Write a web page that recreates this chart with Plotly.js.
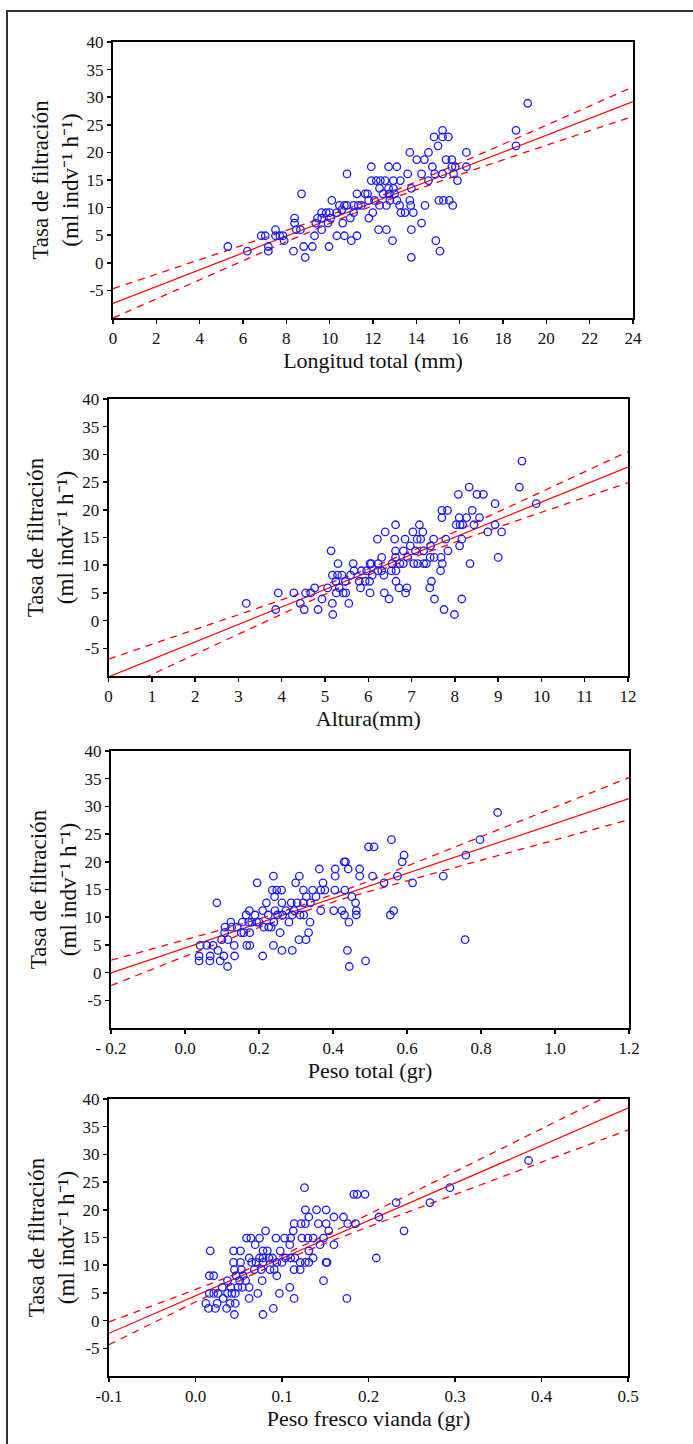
<!DOCTYPE html>
<html><head><meta charset="utf-8">
<script src="https://cdn.plot.ly/plotly-3.0.1.min.js"></script>
<style>
html,body{margin:0;padding:0;background:#fff;}
#chart{width:693px;height:1444px;position:absolute;left:0;top:0;}
#frame{position:absolute;left:6px;top:10px;width:720px;height:1460px;border-left:2px solid #333;border-top:2px solid #333;pointer-events:none;}
</style></head><body>
<div id="chart"></div><div id="frame"></div>
<script>
// ---- Panel 1: Longitud total (mm)
const p1X=[5.3,6.2,6.84,7.03,7.17,7.17,7.5,7.5,7.7,7.85,
7.9,8.33,8.38,8.38,8.46,8.65,8.7,8.8,8.87,9.2,
9.3,9.36,9.44,9.63,9.63,9.63,9.84,9.92,9.97,10.0,
10.05,10.1,10.33,10.33,10.45,10.56,10.6,10.68,10.68,10.8,
10.8,10.95,11.0,11.11,11.11,11.26,11.26,11.32,11.46,11.64,
11.75,11.8,11.81,11.92,11.92,11.99,12.07,12.15,12.26,12.3,
12.3,12.34,12.46,12.56,12.62,12.62,12.72,12.72,12.75,12.78,
12.9,12.94,12.94,13.0,13.1,13.1,13.23,13.26,13.29,13.48,
13.6,13.7,13.7,13.74,13.77,13.77,13.77,13.86,14.02,14.24,
14.24,14.37,14.4,14.56,14.56,14.74,14.82,14.85,14.9,15.0,
15.04,15.09,15.21,15.21,15.21,15.25,15.37,15.48,15.52,15.64,
15.64,15.68,15.72,15.8,15.9,16.31,16.31,18.6,18.6,19.14];
const p1Y=[2.95,2.1,4.9,4.9,2.95,2.1,6.0,4.9,4.9,4.9,
4.0,2.1,8.1,7.2,6.0,6.0,12.5,2.95,1.0,2.95,
4.9,7.2,8.1,9.1,8.1,6.0,9.1,7.2,2.95,9.1,
8.1,11.3,9.1,4.9,10.4,9.6,7.2,10.4,4.9,16.1,
10.4,8.1,4.0,10.4,9.1,12.5,4.9,10.4,10.4,12.5,
12.5,11.3,8.1,17.4,14.9,9.1,11.3,14.9,6.0,13.5,
10.4,14.9,12.5,14.9,6.0,10.4,17.4,13.5,12.5,11.3,
4.0,14.9,13.5,12.5,17.4,11.3,10.4,14.9,9.1,9.1,
16.1,20.0,11.3,10.4,13.5,6.0,1.0,9.1,18.7,16.1,
7.2,18.7,10.4,20.0,14.9,17.4,22.8,16.1,4.0,21.2,
11.3,2.1,24.0,22.8,16.1,11.3,18.7,22.8,11.3,18.7,
17.4,10.4,16.1,17.4,14.9,20.0,17.4,24.0,21.2,28.9];
const fit1X=[0,3,6,9,12,15,18,21,24];
const fit1Line=[-7.35,-2.78,1.79,6.36,10.93,15.5,20.06,24.63,29.2];
const fit1Upper=[-4.69,-0.75,3.21,7.24,11.53,16.38,21.48,26.66,31.86];
const fit1Lower=[-10.01,-4.81,0.37,5.48,10.33,14.62,18.64,22.6,26.54];
const p1Ticks=[0,2,4,6,8,10,12,14,16,18,20,22,24];

// ---- Panel 2: Altura (mm)
const p2X=[3.18,3.86,3.92,4.28,4.43,4.52,4.55,4.67,4.76,4.84,
4.93,5.06,5.14,5.17,5.17,5.18,5.25,5.26,5.29,5.3,
5.33,5.39,5.42,5.47,5.48,5.55,5.59,5.65,5.67,5.79,
5.82,5.84,5.93,5.96,6.03,6.04,6.04,6.07,6.09,6.21,
6.22,6.23,6.31,6.31,6.36,6.37,6.39,6.48,6.53,6.55,
6.61,6.63,6.63,6.63,6.64,6.64,6.71,6.73,6.81,6.81,
6.85,6.86,6.89,6.91,6.97,7.03,7.05,7.09,7.13,7.14,
7.18,7.21,7.26,7.28,7.28,7.34,7.42,7.43,7.44,7.46,
7.51,7.52,7.53,7.67,7.68,7.7,7.7,7.71,7.75,7.79,
7.83,7.84,7.99,8.03,8.08,8.1,8.11,8.12,8.16,8.16,
8.18,8.27,8.33,8.35,8.4,8.44,8.51,8.57,8.66,8.76,
8.93,8.93,9.0,9.08,9.49,9.55,9.88];
const p2Y=[3.1,2.0,5.0,5.0,3.1,2.0,5.0,5.0,5.9,2.0,
3.9,5.9,12.6,8.2,3.1,1.1,7.1,5.0,8.2,10.3,
5.9,8.2,5.0,7.1,5.0,3.1,8.2,10.3,9.0,7.1,
5.9,9.0,7.1,9.0,7.1,10.3,5.0,10.3,8.2,14.7,
9.0,10.3,11.4,9.0,8.2,5.0,16.0,3.9,9.0,10.3,
14.7,17.3,12.6,11.4,9.0,7.1,5.9,10.3,12.6,10.3,
14.7,5.0,5.9,11.4,13.5,16.0,10.3,12.6,14.7,10.3,
17.3,14.7,16.0,12.6,10.3,10.3,5.9,11.4,13.5,7.1,
14.7,11.4,3.9,9.0,11.4,19.9,18.6,10.3,2.0,14.7,
19.9,12.6,1.1,17.3,22.8,18.6,13.5,17.3,14.7,3.9,
17.3,18.6,24.1,10.3,19.9,17.3,22.8,18.6,22.8,16.0,
21.1,17.3,11.4,16.0,24.1,28.8,21.1];
const fit2X=[0,1.5,3,4.5,6,7.5,9,10.5,12];
const fit2Line=[-10.15,-5.42,-0.69,4.04,8.77,13.5,18.24,22.97,27.7];
const fit2Upper=[-6.95,-2.94,1.07,5.13,9.35,14.27,19.63,25.06,30.5];
const fit2Lower=[-13.35,-7.9,-2.45,2.95,8.19,12.73,16.85,20.88,24.9];
const p2Ticks=[0,1,2,3,4,5,6,7,8,9,10,11,12];

// ---- Panel 3: Peso total (gr)
const p3X=[0.038,0.038,0.041,0.059,0.067,0.068,0.076,0.086,0.089,0.095,
0.099,0.105,0.107,0.108,0.115,0.116,0.124,0.126,0.133,0.134,
0.141,0.152,0.155,0.159,0.165,0.167,0.172,0.174,0.175,0.175,
0.18,0.189,0.194,0.195,0.2,0.21,0.21,0.213,0.22,0.225,
0.226,0.233,0.236,0.239,0.239,0.24,0.242,0.243,0.248,0.25,
0.257,0.261,0.262,0.262,0.264,0.273,0.281,0.287,0.29,0.29,
0.295,0.299,0.303,0.308,0.309,0.311,0.32,0.32,0.321,0.327,
0.328,0.334,0.338,0.339,0.345,0.354,0.363,0.367,0.367,0.373,
0.378,0.402,0.405,0.406,0.406,0.424,0.43,0.431,0.432,0.434,
0.439,0.441,0.443,0.444,0.451,0.461,0.463,0.463,0.472,0.472,
0.488,0.496,0.507,0.511,0.538,0.555,0.558,0.564,0.574,0.587,
0.592,0.615,0.698,0.757,0.759,0.797,0.845];
const p3Y=[3.0,2.1,4.9,4.9,2.1,3.0,4.9,12.6,4.0,2.1,
5.95,3.0,7.2,8.2,1.1,5.95,9.1,8.2,4.9,3.0,
8.2,7.2,9.1,7.2,10.4,4.9,9.1,11.2,4.9,7.2,
9.1,10.4,9.1,16.2,9.1,11.2,3.0,8.2,12.6,10.4,
8.2,8.2,14.9,17.4,4.9,9.1,13.7,11.2,14.9,10.4,
7.2,14.9,12.6,4.0,10.4,11.2,9.1,12.6,10.4,4.0,
11.2,16.2,12.6,5.95,17.4,10.4,12.6,14.9,10.4,5.95,
13.7,7.2,9.1,12.6,14.9,13.7,18.7,11.2,14.9,16.2,
14.9,11.2,14.9,17.4,18.7,11.2,20.0,10.4,14.9,20.0,
4.0,18.7,9.1,1.1,13.7,12.6,11.2,10.4,18.7,17.4,
2.1,22.7,17.4,22.7,16.2,10.4,24.0,11.2,17.4,20.0,
21.2,16.2,17.4,5.95,21.2,24.0,28.9];
const fit3X=[-0.2,0,0.2,0.4,0.6,0.8,1.0,1.2];
const fit3Line=[-0.06,4.43,8.93,13.42,17.91,22.41,26.9,31.4];
const fit3Upper=[2.24,5.92,9.72,14.11,19.25,24.54,29.86,35.2];
const fit3Lower=[-2.36,2.94,8.14,12.73,16.57,20.28,23.94,27.6];
const p3Ticks=[-0.2,0,0.2,0.4,0.6,0.8,1.0,1.2];
const p3TickText=["- 0.2","0.0","0.2","0.4","0.6","0.8","1.0","1.2"];

// ---- Panel 4: Peso fresco vianda (gr)
const p4X=[0.012,0.015,0.016,0.017,0.016,0.021,0.021,0.023,0.025,0.026,
0.031,0.032,0.036,0.037,0.037,0.04,0.041,0.042,0.044,0.044,
0.045,0.045,0.046,0.046,0.047,0.049,0.051,0.052,0.052,0.053,
0.054,0.055,0.058,0.059,0.062,0.062,0.062,0.064,0.065,0.068,
0.069,0.07,0.072,0.074,0.074,0.076,0.077,0.078,0.078,0.078,
0.078,0.081,0.083,0.085,0.086,0.089,0.09,0.091,0.093,0.094,
0.094,0.097,0.098,0.1,0.103,0.104,0.109,0.109,0.11,0.11,
0.113,0.114,0.114,0.114,0.115,0.121,0.121,0.122,0.123,0.126,
0.127,0.127,0.127,0.13,0.131,0.131,0.131,0.136,0.136,0.14,
0.142,0.144,0.148,0.148,0.151,0.151,0.151,0.152,0.154,0.16,
0.16,0.171,0.175,0.176,0.183,0.185,0.187,0.196,0.209,0.212,
0.232,0.241,0.271,0.294,0.385];
const p4Y=[3.1,2.2,4.9,12.6,8.1,8.1,4.9,2.2,3.1,4.9,
6.0,4.0,2.2,7.2,4.9,3.1,6.0,4.9,12.6,10.5,
9.2,1.1,3.1,4.9,8.1,6.0,7.2,12.6,10.5,9.2,
6.0,8.1,7.2,14.9,11.3,6.0,4.0,14.9,10.5,9.2,
13.7,10.5,4.9,11.3,14.9,9.2,7.2,11.3,12.6,10.5,
1.1,16.2,12.6,11.3,9.2,11.3,2.2,9.2,14.9,10.5,
8.1,4.9,12.6,10.5,14.9,11.3,13.7,6.0,14.9,11.3,
16.2,17.5,9.2,4.0,11.3,10.5,9.2,17.5,14.9,24.0,
17.5,20.0,10.5,14.9,18.7,12.6,10.5,14.9,11.3,20.0,
17.5,13.7,14.9,7.2,20.0,17.5,10.5,10.5,16.2,18.7,
13.7,18.7,4.0,17.5,22.8,17.5,22.8,22.8,11.3,18.7,
21.3,16.2,21.3,24.0,28.9];
const fit4X=[-0.1,0,0.05,0.1,0.15,0.2,0.3,0.4,0.5];
const fit4Line=[-2.29,4.49,7.88,11.27,14.66,18.05,24.83,31.61,38.37];
const fit4Upper=[-0.24,5.62,8.62,11.82,15.4,19.18,26.88,34.62,42.36];
const fit4Lower=[-4.34,3.36,7.14,10.72,13.92,16.92,22.78,28.6,34.38];
const p4Ticks=[-0.1,0,0.1,0.2,0.3,0.4,0.5];
const p4TickText=["-0.1","0.0","0.1","0.2","0.3","0.4","0.5"];

// shared y axis
const yTicks=[-5,0,5,10,15,20,25,30,35,40];
const yTickText=["-5","0","5","10","15","20","25","30","35","40"];
const yTitle="Tasa de filtración<br>(ml indv\u207B\u00B9 h\u207B\u00B9)";
const xTitles=["Longitud total (mm)","Altura(mm)","Peso total (gr)","Peso fresco vianda (gr)"];

const FONT="'Liberation Serif', 'Times New Roman', serif";
const W=693,H=1444;
// plot boxes in px: [left,right,top,bottom]
const boxes=[[113,633,42,318],[108.6,628,399,676],[111,629,751,1028],[109,628,1099,1376]];

const panels=[
 {x:p1X,y:p1Y,fx:fit1X,fl:fit1Line,fu:fit1Upper,fd:fit1Lower,range:[0,24],tv:p1Ticks,tt:p1Ticks.map(String)},
 {x:p2X,y:p2Y,fx:fit2X,fl:fit2Line,fu:fit2Upper,fd:fit2Lower,range:[0,12],tv:p2Ticks,tt:p2Ticks.map(String)},
 {x:p3X,y:p3Y,fx:fit3X,fl:fit3Line,fu:fit3Upper,fd:fit3Lower,range:[-0.2,1.2],tv:p3Ticks,tt:p3TickText},
 {x:p4X,y:p4Y,fx:fit4X,fl:fit4Line,fu:fit4Upper,fd:fit4Lower,range:[-0.1,0.5],tv:p4Ticks,tt:p4TickText}
];

const data=[];
const layout={width:W,height:H,margin:{l:0,r:0,t:0,b:0},paper_bgcolor:'#fff',plot_bgcolor:'#fff',showlegend:false,font:{family:FONT,color:'#111'}};

panels.forEach((p,i)=>{
  const n=i===0?'':String(i+1);
  const xa='x'+n, ya='y'+n;
  data.push({type:'scatter',mode:'lines',x:p.fx,y:p.fu,xaxis:xa,yaxis:ya,line:{color:'#ff0000',width:1.3,dash:'7px,6px',shape:'spline'},hoverinfo:'skip'});
  data.push({type:'scatter',mode:'lines',x:p.fx,y:p.fd,xaxis:xa,yaxis:ya,line:{color:'#ff0000',width:1.3,dash:'7px,6px',shape:'spline'},hoverinfo:'skip'});
  data.push({type:'scatter',mode:'lines',x:p.fx,y:p.fl,xaxis:xa,yaxis:ya,line:{color:'#ff0000',width:1.2},hoverinfo:'skip'});
  data.push({type:'scatter',mode:'markers',x:p.x,y:p.y,xaxis:xa,yaxis:ya,marker:{symbol:'circle-open',size:7.5,color:'#1a1aff',line:{width:1.3,color:'#1a1aff'}},cliponaxis:true});
  const b=boxes[i];
  const common={showgrid:false,zeroline:false,showline:true,mirror:true,linecolor:'#000',linewidth:2,ticks:'outside',ticklen:4,tickwidth:1.5,tickcolor:'#000',tickfont:{family:FONT,size:17,color:'#111'},fixedrange:true};
  layout['xaxis'+n]=Object.assign({},common,{domain:[b[0]/W,b[1]/W],anchor:ya,range:p.range,tickmode:'array',tickvals:p.tv,ticktext:p.tt,
    title:{text:xTitles[i],font:{family:FONT,size:22,color:'#111'},standoff:2}});
  layout['yaxis'+n]=Object.assign({},common,{domain:[1-b[3]/H,1-b[2]/H],anchor:xa,range:[-10,40],tickmode:'array',tickvals:yTicks,ticktext:yTickText,
    title:{text:yTitle,font:{family:FONT,size:23,color:'#111'},standoff:2}});
});

Plotly.newPlot('chart',data,layout,{staticPlot:true});
</script></body></html>
